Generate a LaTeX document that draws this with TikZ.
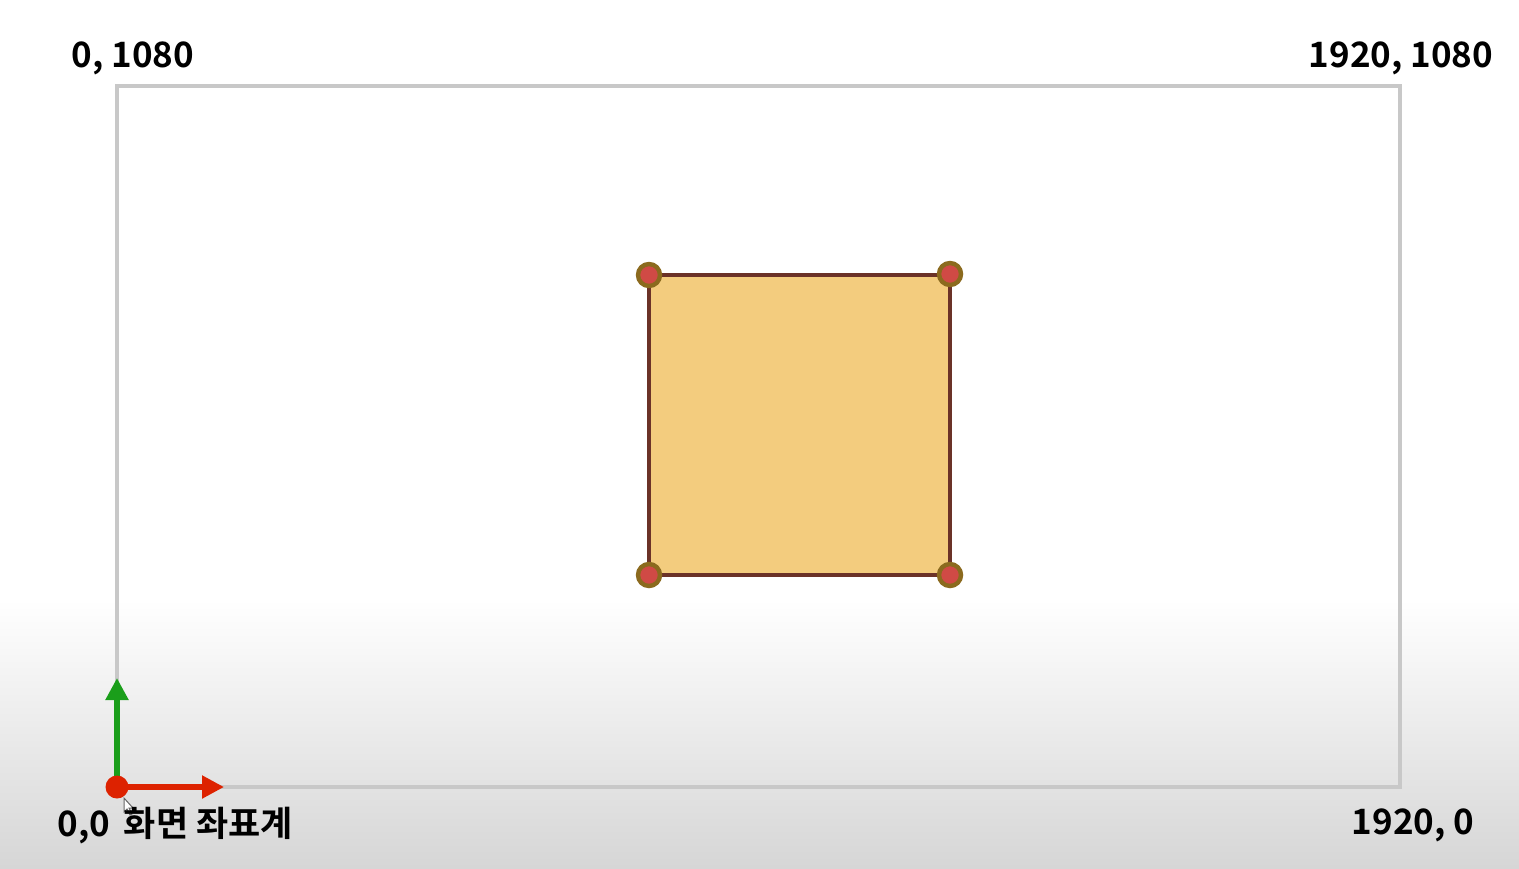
\documentclass[tikz,border=0pt]{standalone}
\usepackage{fontspec}
\setmainfont{Noto Sans CJK KR}[BoldFont={* Bold}]
\usetikzlibrary{arrows.meta}
\definecolor{frame}{HTML}{C8C8C8}
\definecolor{sqfill}{HTML}{F3CC7E}
\definecolor{sqline}{HTML}{6B3228}
\definecolor{dotfill}{HTML}{D04A45}
\definecolor{dotline}{HTML}{8B6A1E}
\definecolor{axred}{HTML}{DD2200}
\definecolor{axgreen}{HTML}{1A9E1A}
\definecolor{bggray}{HTML}{D6D6D6}
\tikzset{
  lbl/.style={font=\fontsize{17.5}{21}\selectfont\bfseries, text=black, inner sep=0pt},
  corner/.style={circle, fill=dotfill, draw=dotline, line width=2.2pt, minimum size=11pt, inner sep=0pt},
  axis/.style={line width=2.6pt, -{Triangle[length=11pt,width=11pt]}}
}
\begin{document}
\begin{tikzpicture}[x=0.5pt,y=-0.5pt]
\useasboundingbox (0,0) rectangle (1519,868);
\fill[white] (0,0) rectangle (1519,600);
\shade[top color=white, bottom color=bggray] (0,599) rectangle (1519,868);
% screen frame
\draw[frame, line width=2pt] (117,86) rectangle (1400,787);
% square
\draw[sqline, fill=sqfill, line width=2pt] (649,275) rectangle (950,575);
\node[corner] (c1) at (649,275) {};
\node[corner] (c2) at (950,274) {};
\node[corner] (c3) at (649,575) {};
\node[corner] (c4) at (950,575) {};
% axes
\coordinate (o) at (117,787);
\coordinate (xe) at (224,787);
\coordinate (ye) at (117,678);
\draw[axis, axgreen] (o) -- (ye);
\draw[axis, axred] (o) -- (xe);
\node[circle, fill=axred, minimum size=11.5pt, inner sep=0pt] (origin) at (o) {};
% cursor
\draw[black!60, fill=white, line width=0.5pt] (124,798) -- (124,812) -- (127,809) -- (130,815) -- (132,814) -- (129,808) -- (133,808) -- cycle;
% labels
\node[lbl] (t1) at (133,58) {0, 1080};
\node[lbl] (t2) at (1401,58) {1920, 1080};
\node[lbl] (t3) at (1413,825) {1920, 0};
\node[lbl, anchor=west] (t4) at (57,826) {0,0\, 화면 좌표계};
\end{tikzpicture}
\end{document}
